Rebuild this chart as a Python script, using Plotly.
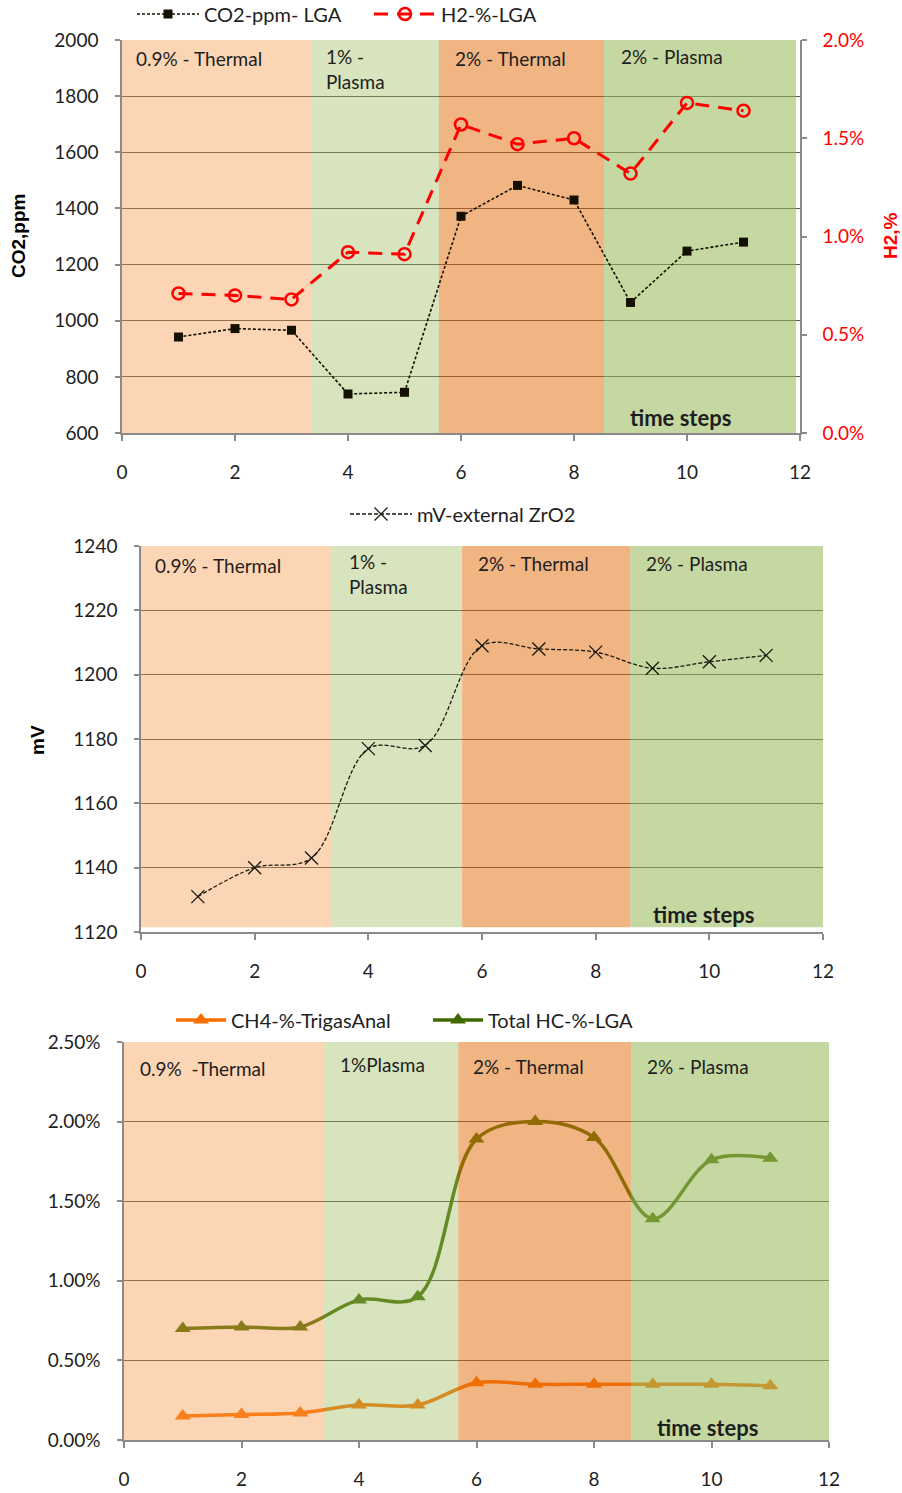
import plotly.graph_objects as go

# ---------------- data ----------------
steps = [1, 2, 3, 4, 5, 6, 7, 8, 9, 10, 11]
co2_ppm = [942, 972, 966, 739, 745, 1372, 1482, 1430, 1065, 1248, 1280]
h2_pct = [0.0071, 0.0070, 0.0068, 0.0092, 0.0091, 0.0157, 0.0147, 0.0150, 0.0132, 0.0168, 0.0164]
mv_zro2 = [1131, 1140, 1143, 1177, 1178, 1209, 1208, 1207, 1202, 1204, 1206]
ch4_pct = [0.0015, 0.0016, 0.0017, 0.0022, 0.0022, 0.0036, 0.0035, 0.0035, 0.0035, 0.0035, 0.0034]
total_hc_pct = [0.0070, 0.0071, 0.0071, 0.0088, 0.0090, 0.0189, 0.0200, 0.0190, 0.0139, 0.0176, 0.0177]

phase_edges_top = [0, 3.35, 5.61, 8.53, 11.93]
phase_edges_mid = [0, 3.36, 5.65, 8.61, 12]
phase_edges_bot = [0, 3.39, 5.69, 8.63, 12]
phase_labels_top = ["0.9% - Thermal", "1% -<br>Plasma", "2% - Thermal", "2% - Plasma"]
phase_labels_mid = ["0.9% - Thermal", "1% -<br>Plasma", "2% - Thermal", "2% - Plasma"]
phase_labels_bot = ["0.9%  -Thermal", "1%Plasma", "2% - Thermal", "2% - Plasma"]
phase_fills = ["rgba(247,150,70,0.40)", "rgba(155,187,89,0.40)",
               "rgba(228,108,10,0.50)", "rgba(155,187,89,0.57)"]

x_ticks = [0, 2, 4, 6, 8, 10, 12]

FONT = "Lato, 'Open Sans', sans-serif"
BOLDFONT = "'Liberation Sans', Arial, sans-serif"
TXT = "#1e1e1e"
GRID = "#555555"
AXC = "#8a8a8a"

fig = go.Figure()


def add_phases(edges, y0, y1, xa, ya):
    for i in range(len(edges) - 1):
        fig.add_trace(go.Scatter(
            x=[edges[i], edges[i + 1], edges[i + 1], edges[i], edges[i]],
            y=[y0, y0, y1, y1, y0], xaxis=xa, yaxis=ya,
            mode="lines", fill="toself", fillcolor=phase_fills[i],
            line=dict(width=0), hoverinfo="skip", showlegend=False))


# ---------------- top panel ----------------
add_phases(phase_edges_top, 600, 2000, "x", "y")
fig.add_trace(go.Scatter(
    x=steps, y=co2_ppm, name="CO2-ppm- LGA", xaxis="x", yaxis="y",
    mode="lines+markers", line=dict(color="#141000", width=1.6, dash="3px,2px"),
    marker=dict(symbol="square", size=9, color="#141000"), legend="legend"))
fig.add_trace(go.Scatter(
    x=steps, y=h2_pct, name="H2-%-LGA", xaxis="x", yaxis="y2",
    mode="lines+markers", line=dict(color="#ff0000", width=3, dash="14px,9px"),
    marker=dict(symbol="circle-open", size=12, color="#ff0000", line=dict(width=2.5)),
    legend="legend"))

# ---------------- middle panel ----------------
add_phases(phase_edges_mid, 1121.5, 1240, "x2", "y3")
fig.add_trace(go.Scatter(
    x=steps, y=mv_zro2, name="mV-external ZrO2", xaxis="x2", yaxis="y3",
    mode="lines+markers", line=dict(color="#1a1a10", width=1.3, dash="4px,2px", shape="spline"),
    marker=dict(symbol="x-thin-open", size=13, color="#1a1a10", line=dict(width=1.3, color="#1a1a10")),
    legend="legend2"))

# ---------------- bottom panel ----------------
fig.add_trace(go.Scatter(
    x=steps, y=ch4_pct, name="CH4-%-TrigasAnal", xaxis="x3", yaxis="y4",
    mode="lines+markers", line=dict(color="#fa6e00", width=3.5, shape="spline"),
    marker=dict(symbol="triangle-up", size=14, color="#fa6e00"), legend="legend3"))
fig.add_trace(go.Scatter(
    x=steps, y=total_hc_pct, name="Total HC-%-LGA", xaxis="x3", yaxis="y4",
    mode="lines+markers", line=dict(color="#3f6a00", width=3.5, shape="spline"),
    marker=dict(symbol="triangle-up", size=14, color="#3f6a00"), legend="legend3"))
add_phases(phase_edges_bot, -0.0002, 0.025, "x3", "y4")

# ---------------- axes ----------------
W, H = 902, 1493


def px_x(p):
    return p / W


def px_y(p):
    return 1 - p / H


xcommon = dict(range=[0, 12], tickvals=x_ticks, showgrid=False, zeroline=False,
               showline=True, linecolor=AXC, linewidth=1.5, ticks="outside",
               ticklen=6, tickcolor=AXC, tickwidth=1.5, ticklabelstandoff=15,
               automargin=False,
               tickfont=dict(family=FONT, size=19, color=TXT))
ycommon = dict(showgrid=True, gridcolor=GRID, gridwidth=1.2, zeroline=False,
               showline=True, linecolor=AXC, linewidth=1.5, ticks="outside",
               ticklen=5, tickcolor=AXC, tickwidth=1.5, ticklabelstandoff=13,
               automargin=False,
               tickfont=dict(family=FONT, size=19, color=TXT))

fig.update_layout(
    xaxis=dict(domain=[px_x(122), px_x(800)], anchor="y", **xcommon),
    yaxis=dict(domain=[px_y(433), px_y(40)], anchor="x", range=[600, 2000], dtick=200, **ycommon),
    yaxis2=dict(overlaying="y", side="right", anchor="x", range=[0, 0.02], dtick=0.005,
                tickformat=".1%", showgrid=False, zeroline=False, showline=True,
                linecolor=AXC, linewidth=1.5, ticks="outside", ticklen=5, tickcolor=AXC,
                tickwidth=1.5, ticklabelstandoff=12, automargin=False,
                tickfont=dict(family=FONT, size=19, color="#ff0000")),
    xaxis2=dict(domain=[px_x(141), px_x(823)], anchor="y3", **xcommon),
    yaxis3=dict(domain=[px_y(932), px_y(546)], anchor="x2", range=[1120, 1240], dtick=20, **ycommon),
    xaxis3=dict(domain=[px_x(124), px_x(829)], anchor="y4", **xcommon),
    yaxis4=dict(domain=[px_y(1440), px_y(1042)], anchor="x3", range=[0, 0.025], dtick=0.005,
                tickformat=".2%", **ycommon),
)

legfont = dict(family=FONT, size=20, color=TXT)
fig.update_layout(
    legend=dict(orientation="h", x=px_x(132), y=px_y(14), xanchor="left", yanchor="middle",
                font=legfont, bgcolor="rgba(0,0,0,0)", itemwidth=62, entrywidth=160),
    legend2=dict(orientation="h", x=px_x(345), y=px_y(514), xanchor="left", yanchor="middle",
                 font=legfont, bgcolor="rgba(0,0,0,0)", itemwidth=62),
    legend3=dict(orientation="h", x=px_x(171), y=px_y(1020), xanchor="left", yanchor="middle",
                 font=legfont, bgcolor="rgba(0,0,0,0)", itemwidth=50, entrywidth=192),
)

# ---------------- annotations ----------------
ann = []


def phase_text(labels, xs_px, ys_px):
    for t, xp, yp in zip(labels, xs_px, ys_px):
        ann.append(dict(text=t, x=px_x(xp), y=px_y(yp), xref="paper", yref="paper",
                        xanchor="left", yanchor="top", align="left", showarrow=False,
                        font=dict(family=FONT, size=19, color=TXT)))


phase_text(phase_labels_top, [134, 324, 453, 619], [45, 43, 45, 43])
phase_text(phase_labels_mid, [153, 347, 476, 644], [552, 548, 550, 550])
phase_text(phase_labels_bot, [138, 338, 471, 645], [1055, 1051, 1053, 1053])

for xp, yp in [(680, 417), (703, 914), (707, 1427)]:
    ann.append(dict(text="<b>time steps</b>", x=px_x(xp), y=px_y(yp), xref="paper", yref="paper",
                    xanchor="center", yanchor="middle", showarrow=False,
                    font=dict(family=FONT, size=22, color=TXT)))

for t, xp, yp, col in [("<b>CO2,ppm</b>", 18, 236, "#000000"),
                       ("<b>H2,%</b>", 890, 236, "#ff0000"),
                       ("<b>mV</b>", 38, 740, "#000000")]:
    ann.append(dict(text=t, x=px_x(xp), y=px_y(yp), xref="paper", yref="paper",
                    textangle=-90, showarrow=False, xanchor="center", yanchor="middle",
                    font=dict(family=BOLDFONT, size=19, color=col)))

fig.update_layout(
    annotations=ann,
    width=W, height=H,
    margin=dict(l=0, r=0, t=0, b=0, autoexpand=False),
    paper_bgcolor="#ffffff", plot_bgcolor="#ffffff",
    showlegend=True,
)

fig.write_html("out.html", config={"displayModeBar": False},
               post_script="document.body.style.margin='0px';document.body.style.overflow='hidden';")
